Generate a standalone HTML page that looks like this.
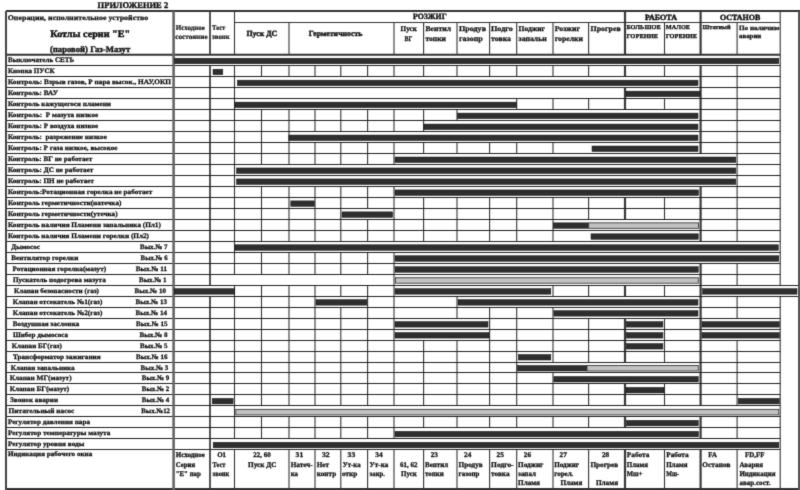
<!DOCTYPE html>
<html><head><meta charset="utf-8"><style>
html,body{margin:0;padding:0;background:#fff;width:800px;height:490px;overflow:hidden}
svg{display:block;will-change:transform}
text{font-family:"Liberation Serif",serif;font-weight:bold;fill:#111;stroke:#111;stroke-width:0.28px;text-rendering:geometricPrecision;white-space:pre}
</style></head><body>
<svg width="800" height="490" viewBox="0 0 800 490">
<defs><filter id="bl" x="0" y="0" width="800" height="490" filterUnits="userSpaceOnUse" color-interpolation-filters="sRGB"><feConvolveMatrix order="3" kernelMatrix="0.0144 0.0912 0.0144 0.0912 0.5776 0.0912 0.0144 0.0912 0.0144" divisor="1" edgeMode="duplicate"/></filter></defs>
<g filter="url(#bl)">
<rect x="0" y="0" width="800" height="490" fill="#fff"/>
<line x1="210.00" y1="11.00" x2="210.00" y2="54.73" stroke="#2a2a2a" stroke-width="1.6"/>
<line x1="210.00" y1="65.70" x2="210.00" y2="285.18" stroke="#2a2a2a" stroke-width="1.6"/>
<line x1="210.00" y1="296.16" x2="210.00" y2="449.79" stroke="#2a2a2a" stroke-width="1.6"/>
<line x1="210.00" y1="449.79" x2="210.00" y2="489.00" stroke="#2a2a2a" stroke-width="1.6"/>
<line x1="234.50" y1="11.00" x2="234.50" y2="54.73" stroke="#333" stroke-width="1.1"/>
<line x1="234.50" y1="65.70" x2="234.50" y2="274.21" stroke="#333" stroke-width="1.1"/>
<line x1="234.50" y1="285.18" x2="234.50" y2="438.82" stroke="#333" stroke-width="1.1"/>
<line x1="234.50" y1="449.79" x2="234.50" y2="489.00" stroke="#333" stroke-width="1.1"/>
<line x1="261.50" y1="65.70" x2="261.50" y2="76.68" stroke="#333" stroke-width="1.1"/>
<line x1="261.50" y1="109.60" x2="261.50" y2="164.47" stroke="#333" stroke-width="1.1"/>
<line x1="261.50" y1="186.42" x2="261.50" y2="241.29" stroke="#333" stroke-width="1.1"/>
<line x1="261.50" y1="252.26" x2="261.50" y2="274.21" stroke="#333" stroke-width="1.1"/>
<line x1="261.50" y1="285.18" x2="261.50" y2="405.90" stroke="#333" stroke-width="1.1"/>
<line x1="261.50" y1="416.87" x2="261.50" y2="438.82" stroke="#333" stroke-width="1.1"/>
<line x1="289.00" y1="22.50" x2="289.00" y2="54.73" stroke="#333" stroke-width="1.1"/>
<line x1="289.00" y1="65.70" x2="289.00" y2="76.68" stroke="#333" stroke-width="1.1"/>
<line x1="289.00" y1="109.60" x2="289.00" y2="164.47" stroke="#333" stroke-width="1.1"/>
<line x1="289.00" y1="186.42" x2="289.00" y2="241.29" stroke="#333" stroke-width="1.1"/>
<line x1="289.00" y1="252.26" x2="289.00" y2="274.21" stroke="#333" stroke-width="1.1"/>
<line x1="289.00" y1="285.18" x2="289.00" y2="405.90" stroke="#333" stroke-width="1.1"/>
<line x1="289.00" y1="416.87" x2="289.00" y2="438.82" stroke="#333" stroke-width="1.1"/>
<line x1="289.00" y1="449.79" x2="289.00" y2="489.00" stroke="#333" stroke-width="1.1"/>
<line x1="315.00" y1="65.70" x2="315.00" y2="76.68" stroke="#333" stroke-width="1.1"/>
<line x1="315.00" y1="109.60" x2="315.00" y2="131.55" stroke="#333" stroke-width="1.1"/>
<line x1="315.00" y1="142.52" x2="315.00" y2="164.47" stroke="#333" stroke-width="1.1"/>
<line x1="315.00" y1="186.42" x2="315.00" y2="241.29" stroke="#333" stroke-width="1.1"/>
<line x1="315.00" y1="252.26" x2="315.00" y2="274.21" stroke="#333" stroke-width="1.1"/>
<line x1="315.00" y1="285.18" x2="315.00" y2="405.90" stroke="#333" stroke-width="1.1"/>
<line x1="315.00" y1="416.87" x2="315.00" y2="438.82" stroke="#333" stroke-width="1.1"/>
<line x1="315.00" y1="449.79" x2="315.00" y2="489.00" stroke="#333" stroke-width="1.1"/>
<line x1="340.80" y1="65.70" x2="340.80" y2="76.68" stroke="#333" stroke-width="1.1"/>
<line x1="340.80" y1="109.60" x2="340.80" y2="131.55" stroke="#333" stroke-width="1.1"/>
<line x1="340.80" y1="142.52" x2="340.80" y2="164.47" stroke="#333" stroke-width="1.1"/>
<line x1="340.80" y1="186.42" x2="340.80" y2="241.29" stroke="#333" stroke-width="1.1"/>
<line x1="340.80" y1="252.26" x2="340.80" y2="274.21" stroke="#333" stroke-width="1.1"/>
<line x1="340.80" y1="285.18" x2="340.80" y2="296.16" stroke="#333" stroke-width="1.1"/>
<line x1="340.80" y1="307.13" x2="340.80" y2="405.90" stroke="#333" stroke-width="1.1"/>
<line x1="340.80" y1="416.87" x2="340.80" y2="438.82" stroke="#333" stroke-width="1.1"/>
<line x1="340.80" y1="449.79" x2="340.80" y2="489.00" stroke="#333" stroke-width="1.1"/>
<line x1="367.60" y1="65.70" x2="367.60" y2="76.68" stroke="#333" stroke-width="1.1"/>
<line x1="367.60" y1="109.60" x2="367.60" y2="131.55" stroke="#333" stroke-width="1.1"/>
<line x1="367.60" y1="142.52" x2="367.60" y2="164.47" stroke="#333" stroke-width="1.1"/>
<line x1="367.60" y1="186.42" x2="367.60" y2="208.37" stroke="#333" stroke-width="1.1"/>
<line x1="367.60" y1="219.34" x2="367.60" y2="241.29" stroke="#333" stroke-width="1.1"/>
<line x1="367.60" y1="252.26" x2="367.60" y2="274.21" stroke="#333" stroke-width="1.1"/>
<line x1="367.60" y1="285.18" x2="367.60" y2="405.90" stroke="#333" stroke-width="1.1"/>
<line x1="367.60" y1="416.87" x2="367.60" y2="438.82" stroke="#333" stroke-width="1.1"/>
<line x1="367.60" y1="449.79" x2="367.60" y2="489.00" stroke="#333" stroke-width="1.1"/>
<line x1="394.00" y1="22.50" x2="394.00" y2="54.73" stroke="#333" stroke-width="1.1"/>
<line x1="394.00" y1="65.70" x2="394.00" y2="76.68" stroke="#333" stroke-width="1.1"/>
<line x1="394.00" y1="109.60" x2="394.00" y2="131.55" stroke="#333" stroke-width="1.1"/>
<line x1="394.00" y1="142.52" x2="394.00" y2="164.47" stroke="#333" stroke-width="1.1"/>
<line x1="394.00" y1="186.42" x2="394.00" y2="241.29" stroke="#333" stroke-width="1.1"/>
<line x1="394.00" y1="252.26" x2="394.00" y2="405.90" stroke="#333" stroke-width="1.1"/>
<line x1="394.00" y1="416.87" x2="394.00" y2="438.82" stroke="#333" stroke-width="1.1"/>
<line x1="394.00" y1="449.79" x2="394.00" y2="489.00" stroke="#333" stroke-width="1.1"/>
<line x1="423.60" y1="22.50" x2="423.60" y2="54.73" stroke="#333" stroke-width="1.1"/>
<line x1="423.60" y1="65.70" x2="423.60" y2="76.68" stroke="#333" stroke-width="1.1"/>
<line x1="423.60" y1="109.60" x2="423.60" y2="131.55" stroke="#333" stroke-width="1.1"/>
<line x1="423.60" y1="142.52" x2="423.60" y2="153.50" stroke="#333" stroke-width="1.1"/>
<line x1="423.60" y1="197.39" x2="423.60" y2="241.29" stroke="#333" stroke-width="1.1"/>
<line x1="423.60" y1="340.05" x2="423.60" y2="405.90" stroke="#333" stroke-width="1.1"/>
<line x1="423.60" y1="416.87" x2="423.60" y2="427.85" stroke="#333" stroke-width="1.1"/>
<line x1="423.60" y1="449.79" x2="423.60" y2="489.00" stroke="#333" stroke-width="1.1"/>
<line x1="457.00" y1="22.50" x2="457.00" y2="54.73" stroke="#333" stroke-width="1.1"/>
<line x1="457.00" y1="65.70" x2="457.00" y2="76.68" stroke="#333" stroke-width="1.1"/>
<line x1="457.00" y1="109.60" x2="457.00" y2="120.57" stroke="#333" stroke-width="1.1"/>
<line x1="457.00" y1="142.52" x2="457.00" y2="153.50" stroke="#333" stroke-width="1.1"/>
<line x1="457.00" y1="197.39" x2="457.00" y2="241.29" stroke="#333" stroke-width="1.1"/>
<line x1="457.00" y1="296.16" x2="457.00" y2="318.11" stroke="#333" stroke-width="1.1"/>
<line x1="457.00" y1="340.05" x2="457.00" y2="405.90" stroke="#333" stroke-width="1.1"/>
<line x1="457.00" y1="416.87" x2="457.00" y2="427.85" stroke="#333" stroke-width="1.1"/>
<line x1="457.00" y1="449.79" x2="457.00" y2="489.00" stroke="#333" stroke-width="1.1"/>
<line x1="489.60" y1="22.50" x2="489.60" y2="54.73" stroke="#333" stroke-width="1.1"/>
<line x1="489.60" y1="65.70" x2="489.60" y2="76.68" stroke="#333" stroke-width="1.1"/>
<line x1="489.60" y1="142.52" x2="489.60" y2="153.50" stroke="#333" stroke-width="1.1"/>
<line x1="489.60" y1="197.39" x2="489.60" y2="241.29" stroke="#333" stroke-width="1.1"/>
<line x1="489.60" y1="307.13" x2="489.60" y2="405.90" stroke="#333" stroke-width="1.1"/>
<line x1="489.60" y1="416.87" x2="489.60" y2="427.85" stroke="#333" stroke-width="1.1"/>
<line x1="489.60" y1="449.79" x2="489.60" y2="489.00" stroke="#333" stroke-width="1.1"/>
<line x1="516.70" y1="22.50" x2="516.70" y2="54.73" stroke="#333" stroke-width="1.1"/>
<line x1="516.70" y1="65.70" x2="516.70" y2="76.68" stroke="#333" stroke-width="1.1"/>
<line x1="516.70" y1="98.63" x2="516.70" y2="109.60" stroke="#333" stroke-width="1.1"/>
<line x1="516.70" y1="142.52" x2="516.70" y2="153.50" stroke="#333" stroke-width="1.1"/>
<line x1="516.70" y1="197.39" x2="516.70" y2="241.29" stroke="#333" stroke-width="1.1"/>
<line x1="516.70" y1="307.13" x2="516.70" y2="405.90" stroke="#333" stroke-width="1.1"/>
<line x1="516.70" y1="416.87" x2="516.70" y2="427.85" stroke="#333" stroke-width="1.1"/>
<line x1="516.70" y1="449.79" x2="516.70" y2="489.00" stroke="#333" stroke-width="1.1"/>
<line x1="553.00" y1="22.50" x2="553.00" y2="54.73" stroke="#333" stroke-width="1.1"/>
<line x1="553.00" y1="65.70" x2="553.00" y2="76.68" stroke="#333" stroke-width="1.1"/>
<line x1="553.00" y1="98.63" x2="553.00" y2="109.60" stroke="#333" stroke-width="1.1"/>
<line x1="553.00" y1="142.52" x2="553.00" y2="153.50" stroke="#333" stroke-width="1.1"/>
<line x1="553.00" y1="197.39" x2="553.00" y2="241.29" stroke="#333" stroke-width="1.1"/>
<line x1="553.00" y1="285.18" x2="553.00" y2="296.16" stroke="#333" stroke-width="1.1"/>
<line x1="553.00" y1="307.13" x2="553.00" y2="362.00" stroke="#333" stroke-width="1.1"/>
<line x1="553.00" y1="372.98" x2="553.00" y2="405.90" stroke="#333" stroke-width="1.1"/>
<line x1="553.00" y1="416.87" x2="553.00" y2="427.85" stroke="#333" stroke-width="1.1"/>
<line x1="553.00" y1="449.79" x2="553.00" y2="489.00" stroke="#333" stroke-width="1.1"/>
<line x1="588.60" y1="22.50" x2="588.60" y2="54.73" stroke="#333" stroke-width="1.1"/>
<line x1="588.60" y1="65.70" x2="588.60" y2="76.68" stroke="#333" stroke-width="1.1"/>
<line x1="588.60" y1="98.63" x2="588.60" y2="109.60" stroke="#333" stroke-width="1.1"/>
<line x1="588.60" y1="197.39" x2="588.60" y2="219.34" stroke="#333" stroke-width="1.1"/>
<line x1="588.60" y1="285.18" x2="588.60" y2="296.16" stroke="#333" stroke-width="1.1"/>
<line x1="588.60" y1="318.11" x2="588.60" y2="362.00" stroke="#333" stroke-width="1.1"/>
<line x1="588.60" y1="383.95" x2="588.60" y2="405.90" stroke="#333" stroke-width="1.1"/>
<line x1="588.60" y1="416.87" x2="588.60" y2="427.85" stroke="#333" stroke-width="1.1"/>
<line x1="588.60" y1="449.79" x2="588.60" y2="489.00" stroke="#333" stroke-width="1.1"/>
<line x1="625.00" y1="11.00" x2="625.00" y2="54.73" stroke="#3a3a3a" stroke-width="2.2"/>
<line x1="625.00" y1="65.70" x2="625.00" y2="76.68" stroke="#3a3a3a" stroke-width="2.2"/>
<line x1="625.00" y1="87.65" x2="625.00" y2="109.60" stroke="#3a3a3a" stroke-width="2.2"/>
<line x1="625.00" y1="197.39" x2="625.00" y2="219.34" stroke="#3a3a3a" stroke-width="2.2"/>
<line x1="625.00" y1="285.18" x2="625.00" y2="296.16" stroke="#3a3a3a" stroke-width="2.2"/>
<line x1="625.00" y1="318.11" x2="625.00" y2="362.00" stroke="#3a3a3a" stroke-width="2.2"/>
<line x1="625.00" y1="383.95" x2="625.00" y2="405.90" stroke="#3a3a3a" stroke-width="2.2"/>
<line x1="625.00" y1="416.87" x2="625.00" y2="427.85" stroke="#3a3a3a" stroke-width="2.2"/>
<line x1="625.00" y1="449.79" x2="625.00" y2="489.00" stroke="#3a3a3a" stroke-width="2.2"/>
<line x1="664.50" y1="22.50" x2="664.50" y2="54.73" stroke="#333" stroke-width="1.1"/>
<line x1="664.50" y1="65.70" x2="664.50" y2="76.68" stroke="#333" stroke-width="1.1"/>
<line x1="664.50" y1="98.63" x2="664.50" y2="109.60" stroke="#333" stroke-width="1.1"/>
<line x1="664.50" y1="197.39" x2="664.50" y2="219.34" stroke="#333" stroke-width="1.1"/>
<line x1="664.50" y1="285.18" x2="664.50" y2="296.16" stroke="#333" stroke-width="1.1"/>
<line x1="664.50" y1="318.11" x2="664.50" y2="362.00" stroke="#333" stroke-width="1.1"/>
<line x1="664.50" y1="383.95" x2="664.50" y2="405.90" stroke="#333" stroke-width="1.1"/>
<line x1="664.50" y1="449.79" x2="664.50" y2="489.00" stroke="#333" stroke-width="1.1"/>
<line x1="700.60" y1="11.00" x2="700.60" y2="54.73" stroke="#3a3a3a" stroke-width="2.2"/>
<line x1="700.60" y1="65.70" x2="700.60" y2="153.50" stroke="#3a3a3a" stroke-width="2.2"/>
<line x1="700.60" y1="186.42" x2="700.60" y2="241.29" stroke="#3a3a3a" stroke-width="2.2"/>
<line x1="700.60" y1="263.24" x2="700.60" y2="405.90" stroke="#3a3a3a" stroke-width="2.2"/>
<line x1="700.60" y1="416.87" x2="700.60" y2="438.82" stroke="#3a3a3a" stroke-width="2.2"/>
<line x1="700.60" y1="449.79" x2="700.60" y2="489.00" stroke="#3a3a3a" stroke-width="2.2"/>
<line x1="737.10" y1="22.50" x2="737.10" y2="54.73" stroke="#333" stroke-width="1.1"/>
<line x1="737.10" y1="65.70" x2="737.10" y2="241.29" stroke="#333" stroke-width="1.1"/>
<line x1="737.10" y1="263.24" x2="737.10" y2="285.18" stroke="#333" stroke-width="1.1"/>
<line x1="737.10" y1="296.16" x2="737.10" y2="318.11" stroke="#333" stroke-width="1.1"/>
<line x1="737.10" y1="340.05" x2="737.10" y2="405.90" stroke="#333" stroke-width="1.1"/>
<line x1="737.10" y1="416.87" x2="737.10" y2="438.82" stroke="#333" stroke-width="1.1"/>
<line x1="737.10" y1="449.79" x2="737.10" y2="489.00" stroke="#333" stroke-width="1.1"/>
<line x1="780.20" y1="11.00" x2="780.20" y2="54.73" stroke="#333" stroke-width="1.1"/>
<line x1="780.20" y1="54.73" x2="780.20" y2="285.18" stroke="#333" stroke-width="1.1"/>
<line x1="780.20" y1="296.16" x2="780.20" y2="449.79" stroke="#333" stroke-width="1.1"/>
<line x1="780.20" y1="449.79" x2="780.20" y2="489.00" stroke="#333" stroke-width="1.1"/>
<line x1="6.00" y1="65.50" x2="780.20" y2="65.50" stroke="#222" stroke-width="1.15"/>
<line x1="6.00" y1="76.50" x2="780.20" y2="76.50" stroke="#222" stroke-width="1.15"/>
<line x1="6.00" y1="87.50" x2="780.20" y2="87.50" stroke="#222" stroke-width="1.15"/>
<line x1="6.00" y1="98.50" x2="780.20" y2="98.50" stroke="#222" stroke-width="1.15"/>
<line x1="6.00" y1="109.50" x2="780.20" y2="109.50" stroke="#222" stroke-width="1.15"/>
<line x1="6.00" y1="120.50" x2="780.20" y2="120.50" stroke="#222" stroke-width="1.15"/>
<line x1="6.00" y1="131.50" x2="780.20" y2="131.50" stroke="#222" stroke-width="1.15"/>
<line x1="6.00" y1="142.50" x2="780.20" y2="142.50" stroke="#222" stroke-width="1.15"/>
<line x1="6.00" y1="153.50" x2="780.20" y2="153.50" stroke="#222" stroke-width="1.15"/>
<line x1="6.00" y1="164.50" x2="780.20" y2="164.50" stroke="#222" stroke-width="1.15"/>
<line x1="6.00" y1="175.50" x2="780.20" y2="175.50" stroke="#222" stroke-width="1.15"/>
<line x1="6.00" y1="186.50" x2="780.20" y2="186.50" stroke="#222" stroke-width="1.15"/>
<line x1="6.00" y1="197.50" x2="780.20" y2="197.50" stroke="#222" stroke-width="1.15"/>
<line x1="6.00" y1="208.50" x2="780.20" y2="208.50" stroke="#222" stroke-width="1.15"/>
<line x1="6.00" y1="219.50" x2="780.20" y2="219.50" stroke="#222" stroke-width="1.15"/>
<line x1="6.00" y1="230.50" x2="780.20" y2="230.50" stroke="#222" stroke-width="1.15"/>
<line x1="6.00" y1="241.50" x2="780.20" y2="241.50" stroke="#222" stroke-width="1.15"/>
<line x1="6.00" y1="252.50" x2="780.20" y2="252.50" stroke="#222" stroke-width="1.15"/>
<line x1="6.00" y1="263.50" x2="780.20" y2="263.50" stroke="#222" stroke-width="1.15"/>
<line x1="6.00" y1="274.50" x2="780.20" y2="274.50" stroke="#222" stroke-width="1.15"/>
<line x1="6.00" y1="285.50" x2="799.00" y2="285.50" stroke="#222" stroke-width="1.15"/>
<line x1="6.00" y1="296.50" x2="799.00" y2="296.50" stroke="#222" stroke-width="1.15"/>
<line x1="6.00" y1="307.50" x2="780.20" y2="307.50" stroke="#222" stroke-width="1.15"/>
<line x1="6.00" y1="318.50" x2="780.20" y2="318.50" stroke="#222" stroke-width="1.15"/>
<line x1="6.00" y1="329.50" x2="780.20" y2="329.50" stroke="#222" stroke-width="1.15"/>
<line x1="6.00" y1="340.50" x2="780.20" y2="340.50" stroke="#222" stroke-width="1.15"/>
<line x1="6.00" y1="351.50" x2="780.20" y2="351.50" stroke="#222" stroke-width="1.15"/>
<line x1="6.00" y1="362.50" x2="780.20" y2="362.50" stroke="#222" stroke-width="1.15"/>
<line x1="6.00" y1="372.50" x2="780.20" y2="372.50" stroke="#222" stroke-width="1.15"/>
<line x1="6.00" y1="383.50" x2="780.20" y2="383.50" stroke="#222" stroke-width="1.15"/>
<line x1="6.00" y1="394.50" x2="780.20" y2="394.50" stroke="#222" stroke-width="1.15"/>
<line x1="6.00" y1="405.50" x2="780.20" y2="405.50" stroke="#222" stroke-width="1.15"/>
<line x1="6.00" y1="416.50" x2="780.20" y2="416.50" stroke="#222" stroke-width="1.15"/>
<line x1="6.00" y1="427.50" x2="780.20" y2="427.50" stroke="#222" stroke-width="1.15"/>
<line x1="6.00" y1="438.50" x2="780.20" y2="438.50" stroke="#222" stroke-width="1.15"/>
<line x1="6.00" y1="449.50" x2="780.20" y2="449.50" stroke="#2a2a2a" stroke-width="1.2"/>
<line x1="234.50" y1="22.50" x2="780.20" y2="22.50" stroke="#333" stroke-width="1.1"/>
<line x1="6.00" y1="54.73" x2="780.20" y2="54.73" stroke="#333" stroke-width="1.8"/>
<line x1="6.00" y1="11.00" x2="800.00" y2="11.00" stroke="#333" stroke-width="2.0"/>
<line x1="6.00" y1="489.00" x2="800.00" y2="489.00" stroke="#333" stroke-width="2.2"/>
<line x1="6.00" y1="11.00" x2="6.00" y2="490.00" stroke="#444" stroke-width="2.0"/>
<line x1="173.60" y1="11.00" x2="173.60" y2="490.00" stroke="#666" stroke-width="2.6"/>
<line x1="799.00" y1="11.00" x2="799.00" y2="490.00" stroke="#555" stroke-width="2.0"/>
<rect x="174.50" y="58.23" width="604.30" height="5.50" fill="#2e2e2e" stroke="#111" stroke-width="0.5"/>
<rect x="213.00" y="69.20" width="9.80" height="5.50" fill="#2e2e2e" stroke="#111" stroke-width="0.5"/>
<rect x="237.50" y="80.18" width="460.50" height="5.50" fill="#2e2e2e" stroke="#111" stroke-width="0.5"/>
<rect x="626.00" y="91.15" width="74.00" height="5.50" fill="#2e2e2e" stroke="#111" stroke-width="0.5"/>
<rect x="235.00" y="102.13" width="281.50" height="5.50" fill="#2e2e2e" stroke="#111" stroke-width="0.5"/>
<rect x="457.50" y="113.10" width="240.50" height="5.50" fill="#2e2e2e" stroke="#111" stroke-width="0.5"/>
<rect x="423.80" y="124.07" width="274.20" height="5.50" fill="#2e2e2e" stroke="#111" stroke-width="0.5"/>
<rect x="288.80" y="135.05" width="409.20" height="5.50" fill="#2e2e2e" stroke="#111" stroke-width="0.5"/>
<rect x="592.00" y="146.02" width="106.00" height="5.50" fill="#2e2e2e" stroke="#111" stroke-width="0.5"/>
<rect x="395.00" y="157.00" width="340.80" height="5.50" fill="#2e2e2e" stroke="#111" stroke-width="0.5"/>
<rect x="236.50" y="167.97" width="499.30" height="5.50" fill="#2e2e2e" stroke="#111" stroke-width="0.5"/>
<rect x="236.50" y="178.94" width="499.30" height="5.50" fill="#2e2e2e" stroke="#111" stroke-width="0.5"/>
<rect x="395.00" y="189.92" width="303.50" height="5.50" fill="#2e2e2e" stroke="#111" stroke-width="0.5"/>
<rect x="290.80" y="200.89" width="23.60" height="5.50" fill="#2e2e2e" stroke="#111" stroke-width="0.5"/>
<rect x="342.00" y="211.87" width="50.60" height="5.50" fill="#2e2e2e" stroke="#111" stroke-width="0.5"/>
<rect x="553.30" y="222.84" width="35.40" height="5.50" fill="#2e2e2e" stroke="#111" stroke-width="0.5"/>
<rect x="588.70" y="222.84" width="109.80" height="5.50" fill="#c2c2c2" stroke="#3a3a3a" stroke-width="0.9"/>
<rect x="591.00" y="233.81" width="107.30" height="5.50" fill="#2e2e2e" stroke="#111" stroke-width="0.5"/>
<rect x="235.00" y="244.79" width="543.30" height="5.50" fill="#2e2e2e" stroke="#111" stroke-width="0.5"/>
<rect x="395.00" y="255.76" width="383.80" height="5.50" fill="#2e2e2e" stroke="#111" stroke-width="0.5"/>
<rect x="395.00" y="266.74" width="303.30" height="5.50" fill="#2e2e2e" stroke="#111" stroke-width="0.5"/>
<rect x="395.50" y="277.71" width="302.80" height="5.50" fill="#c2c2c2" stroke="#3a3a3a" stroke-width="0.9"/>
<rect x="174.20" y="288.68" width="60.60" height="5.50" fill="#2e2e2e" stroke="#111" stroke-width="0.5"/>
<rect x="395.00" y="288.68" width="155.80" height="5.50" fill="#2e2e2e" stroke="#111" stroke-width="0.5"/>
<rect x="702.50" y="288.68" width="94.50" height="5.50" fill="#2e2e2e" stroke="#111" stroke-width="0.5"/>
<rect x="316.00" y="299.66" width="50.80" height="5.50" fill="#2e2e2e" stroke="#111" stroke-width="0.5"/>
<rect x="458.00" y="299.66" width="240.00" height="5.50" fill="#2e2e2e" stroke="#111" stroke-width="0.5"/>
<rect x="553.90" y="310.63" width="144.10" height="5.50" fill="#2e2e2e" stroke="#111" stroke-width="0.5"/>
<rect x="395.00" y="321.61" width="93.00" height="5.50" fill="#2e2e2e" stroke="#111" stroke-width="0.5"/>
<rect x="626.30" y="321.61" width="36.60" height="5.50" fill="#2e2e2e" stroke="#111" stroke-width="0.5"/>
<rect x="702.00" y="321.61" width="77.30" height="5.50" fill="#2e2e2e" stroke="#111" stroke-width="0.5"/>
<rect x="395.00" y="332.58" width="94.00" height="5.50" fill="#2e2e2e" stroke="#111" stroke-width="0.5"/>
<rect x="626.30" y="332.58" width="36.60" height="5.50" fill="#2e2e2e" stroke="#111" stroke-width="0.5"/>
<rect x="702.00" y="332.58" width="77.30" height="5.50" fill="#2e2e2e" stroke="#111" stroke-width="0.5"/>
<rect x="626.30" y="343.55" width="36.60" height="5.50" fill="#2e2e2e" stroke="#111" stroke-width="0.5"/>
<rect x="518.40" y="354.53" width="32.40" height="5.50" fill="#2e2e2e" stroke="#111" stroke-width="0.5"/>
<rect x="517.50" y="365.50" width="69.50" height="5.50" fill="#2e2e2e" stroke="#111" stroke-width="0.5"/>
<rect x="587.00" y="365.50" width="111.30" height="5.50" fill="#c2c2c2" stroke="#3a3a3a" stroke-width="0.9"/>
<rect x="553.90" y="376.48" width="144.40" height="5.50" fill="#2e2e2e" stroke="#111" stroke-width="0.5"/>
<rect x="626.00" y="387.45" width="38.00" height="5.50" fill="#2e2e2e" stroke="#111" stroke-width="0.5"/>
<rect x="212.20" y="398.42" width="20.90" height="5.50" fill="#2e2e2e" stroke="#111" stroke-width="0.5"/>
<rect x="738.30" y="398.42" width="41.00" height="5.50" fill="#2e2e2e" stroke="#111" stroke-width="0.5"/>
<rect x="235.80" y="409.40" width="543.00" height="5.50" fill="#c2c2c2" stroke="#3a3a3a" stroke-width="0.9"/>
<rect x="626.40" y="420.37" width="71.90" height="5.50" fill="#2e2e2e" stroke="#111" stroke-width="0.5"/>
<rect x="395.00" y="431.35" width="303.50" height="5.50" fill="#2e2e2e" stroke="#111" stroke-width="0.5"/>
<rect x="213.20" y="442.32" width="565.60" height="5.50" fill="#2e2e2e" stroke="#111" stroke-width="0.5"/>
<text x="97.60" y="8.00" font-size="8.6" style="stroke-width:0.4px" textLength="70.60" lengthAdjust="spacingAndGlyphs">ПРИЛОЖЕНИЕ 2</text>
<text x="7.70" y="19.50" font-size="7.1" style="stroke-width:0.25px" textLength="140.60" lengthAdjust="spacingAndGlyphs">Операции, исполнительное устройство</text>
<text x="50.30" y="36.60" font-size="9.8" style="stroke-width:0.45px" textLength="79.90" lengthAdjust="spacingAndGlyphs">Котлы серии &quot;Е&quot;</text>
<text x="49.90" y="52.20" font-size="8.6" style="stroke-width:0.4px" textLength="80.30" lengthAdjust="spacingAndGlyphs">(паровой) Газ-Мазут</text>
<text x="7.90" y="62.23" font-size="6.8" textLength="66.40" lengthAdjust="spacingAndGlyphs">Выключатель СЕТЬ</text>
<text x="7.90" y="73.20" font-size="6.8" textLength="46.80" lengthAdjust="spacingAndGlyphs">Кнопка ПУСК</text>
<text x="7.90" y="84.18" font-size="6.8" textLength="163.10" lengthAdjust="spacingAndGlyphs">Контроль: Взрыв газов, Р пара высок., НАУ,ОКП</text>
<text x="7.90" y="95.15" font-size="6.8" textLength="50.10" lengthAdjust="spacingAndGlyphs">Контроль: ВАУ</text>
<text x="7.90" y="106.13" font-size="6.8" textLength="103.10" lengthAdjust="spacingAndGlyphs">Контроль кажущегося пламени</text>
<text x="7.90" y="117.10" font-size="6.8" textLength="90.40" lengthAdjust="spacingAndGlyphs">Контроль:  Р мазута низкое</text>
<text x="7.90" y="128.07" font-size="6.8" textLength="90.40" lengthAdjust="spacingAndGlyphs">Контроль: Р воздуха низкое</text>
<text x="7.90" y="139.05" font-size="6.8" textLength="99.00" lengthAdjust="spacingAndGlyphs">Контроль:  разрежение низкое</text>
<text x="7.90" y="150.02" font-size="6.8" textLength="109.60" lengthAdjust="spacingAndGlyphs">Контроль: Р газа низкое, высокое</text>
<text x="7.90" y="161.00" font-size="6.8" textLength="84.40" lengthAdjust="spacingAndGlyphs">Контроль: ВГ не работает</text>
<text x="7.90" y="171.97" font-size="6.8" textLength="85.50" lengthAdjust="spacingAndGlyphs">Контроль: ДС не работает</text>
<text x="7.90" y="182.94" font-size="6.8" textLength="86.10" lengthAdjust="spacingAndGlyphs">Контроль: ПН не работает</text>
<text x="7.90" y="193.92" font-size="6.8" textLength="144.40" lengthAdjust="spacingAndGlyphs">Контроль:Ротационная горелка не работает</text>
<text x="7.90" y="204.89" font-size="6.8" textLength="113.60" lengthAdjust="spacingAndGlyphs">Контроль герметичности(натечка)</text>
<text x="7.90" y="215.87" font-size="6.8" textLength="109.80" lengthAdjust="spacingAndGlyphs">Контроль герметичности(утечка)</text>
<text x="7.90" y="226.84" font-size="6.8" textLength="153.00" lengthAdjust="spacingAndGlyphs">Контроль наличия Пламени запальника (Пл1)</text>
<text x="7.90" y="237.81" font-size="6.8" textLength="141.10" lengthAdjust="spacingAndGlyphs">Контроль наличия Пламени горелки (Пл2)</text>
<text x="11.25" y="248.79" font-size="6.8" textLength="28.75" lengthAdjust="spacingAndGlyphs">Дымосос</text>
<text x="140.00" y="248.79" font-size="6.8" textLength="27.60" lengthAdjust="spacingAndGlyphs">Вых.№ 7</text>
<text x="11.25" y="259.76" font-size="6.8" textLength="67.05" lengthAdjust="spacingAndGlyphs">Вентилятор горелки</text>
<text x="140.60" y="259.76" font-size="6.8" textLength="27.00" lengthAdjust="spacingAndGlyphs">Вых.№ 6</text>
<text x="12.40" y="270.74" font-size="6.8" textLength="93.80" lengthAdjust="spacingAndGlyphs">Ротационная горелка(мазут)</text>
<text x="135.70" y="270.74" font-size="6.8" textLength="31.30" lengthAdjust="spacingAndGlyphs">Вых.№ 11</text>
<text x="13.00" y="281.71" font-size="6.8" textLength="92.75" lengthAdjust="spacingAndGlyphs">Пускатель подогрева мазута</text>
<text x="139.00" y="281.71" font-size="6.8" textLength="27.50" lengthAdjust="spacingAndGlyphs">Вых.№ 1</text>
<text x="14.00" y="292.68" font-size="6.8" textLength="85.00" lengthAdjust="spacingAndGlyphs">Клапан безопасности (газ)</text>
<text x="134.60" y="292.68" font-size="6.8" textLength="31.40" lengthAdjust="spacingAndGlyphs">Вых.№ 10</text>
<text x="12.80" y="303.66" font-size="6.8" textLength="89.60" lengthAdjust="spacingAndGlyphs">Клапан отсекатель №1(газ)</text>
<text x="135.50" y="303.66" font-size="6.8" textLength="31.50" lengthAdjust="spacingAndGlyphs">Вых.№ 13</text>
<text x="12.80" y="314.63" font-size="6.8" textLength="89.60" lengthAdjust="spacingAndGlyphs">Клапан отсекатель №2(газ)</text>
<text x="135.50" y="314.63" font-size="6.8" textLength="31.50" lengthAdjust="spacingAndGlyphs">Вых.№ 14</text>
<text x="12.80" y="325.61" font-size="6.8" textLength="66.40" lengthAdjust="spacingAndGlyphs">Воздушная заслонка</text>
<text x="136.00" y="325.61" font-size="6.8" textLength="31.60" lengthAdjust="spacingAndGlyphs">Вых.№ 15</text>
<text x="13.00" y="336.58" font-size="6.8" textLength="55.00" lengthAdjust="spacingAndGlyphs">Шибер дымососа</text>
<text x="139.50" y="336.58" font-size="6.8" textLength="28.10" lengthAdjust="spacingAndGlyphs">Вых.№ 8</text>
<text x="11.70" y="347.55" font-size="6.8" textLength="50.20" lengthAdjust="spacingAndGlyphs">Клапан БГ(газ)</text>
<text x="140.00" y="347.55" font-size="6.8" textLength="27.60" lengthAdjust="spacingAndGlyphs">Вых.№ 5</text>
<text x="13.00" y="358.53" font-size="6.8" textLength="87.60" lengthAdjust="spacingAndGlyphs">Трансформатор зажигания</text>
<text x="136.00" y="358.53" font-size="6.8" textLength="31.60" lengthAdjust="spacingAndGlyphs">Вых.№ 16</text>
<text x="10.80" y="369.50" font-size="6.8" textLength="63.90" lengthAdjust="spacingAndGlyphs">Клапан запальника</text>
<text x="140.60" y="369.50" font-size="6.8" textLength="27.70" lengthAdjust="spacingAndGlyphs">Вых.№ 3</text>
<text x="9.70" y="380.48" font-size="6.8" textLength="61.90" lengthAdjust="spacingAndGlyphs">Клапан МГ(мазут)</text>
<text x="141.75" y="380.48" font-size="6.8" textLength="27.45" lengthAdjust="spacingAndGlyphs">Вых.№ 9</text>
<text x="9.70" y="391.45" font-size="6.8" textLength="59.60" lengthAdjust="spacingAndGlyphs">Клапан БГ(мазут)</text>
<text x="141.75" y="391.45" font-size="6.8" textLength="27.45" lengthAdjust="spacingAndGlyphs">Вых.№ 2</text>
<text x="10.10" y="402.42" font-size="6.8" textLength="47.90" lengthAdjust="spacingAndGlyphs">Звонок аварии</text>
<text x="141.75" y="402.42" font-size="6.8" textLength="27.45" lengthAdjust="spacingAndGlyphs">Вых.№ 4</text>
<text x="8.60" y="413.40" font-size="6.8" textLength="65.70" lengthAdjust="spacingAndGlyphs">Питательный насос</text>
<text x="141.30" y="413.40" font-size="6.8" textLength="28.70" lengthAdjust="spacingAndGlyphs">Вых.№12</text>
<text x="7.90" y="424.37" font-size="6.8" textLength="82.10" lengthAdjust="spacingAndGlyphs">Регулятор давления пара</text>
<text x="7.90" y="435.35" font-size="6.8" textLength="102.40" lengthAdjust="spacingAndGlyphs">Регулятор температуры мазута</text>
<text x="7.90" y="446.32" font-size="6.8" textLength="76.50" lengthAdjust="spacingAndGlyphs">Регулятор уровня воды</text>
<text x="7.90" y="456.40" font-size="6.8" textLength="84.40" lengthAdjust="spacingAndGlyphs">Индикация рабочего окна</text>
<text x="175.70" y="30.00" font-size="7.2" style="stroke-width:0.22px" textLength="29.30" lengthAdjust="spacingAndGlyphs">Исходное</text>
<text x="175.20" y="39.20" font-size="7.2" style="stroke-width:0.22px" textLength="32.50" lengthAdjust="spacingAndGlyphs">состояние</text>
<text x="212.00" y="30.00" font-size="7.2" style="stroke-width:0.22px" textLength="13.30" lengthAdjust="spacingAndGlyphs">Тест</text>
<text x="212.00" y="39.20" font-size="7.2" style="stroke-width:0.22px" textLength="17.80" lengthAdjust="spacingAndGlyphs">звонк</text>
<text x="246.40" y="35.60" font-size="7.9" style="stroke-width:0.4px" textLength="30.90" lengthAdjust="spacingAndGlyphs">Пуск ДС</text>
<text x="308.80" y="35.60" font-size="7.9" style="stroke-width:0.4px" textLength="53.70" lengthAdjust="spacingAndGlyphs">Герметичность</text>
<text x="413.10" y="19.40" font-size="8.2" style="stroke-width:0.4px" textLength="33.50" lengthAdjust="spacingAndGlyphs">РОЗЖИГ</text>
<text x="400.60" y="31.00" font-size="7.4" textLength="16.20" lengthAdjust="spacingAndGlyphs">Пуск</text>
<text x="404.60" y="41.00" font-size="7.4" textLength="7.80" lengthAdjust="spacingAndGlyphs">ВГ</text>
<text x="425.40" y="31.00" font-size="7.4" textLength="25.60" lengthAdjust="spacingAndGlyphs">Вентил</text>
<text x="425.40" y="41.00" font-size="7.4" textLength="20.60" lengthAdjust="spacingAndGlyphs">топки</text>
<text x="459.00" y="31.00" font-size="7.4" textLength="27.00" lengthAdjust="spacingAndGlyphs">Продув</text>
<text x="459.00" y="41.00" font-size="7.4" textLength="23.70" lengthAdjust="spacingAndGlyphs">газопр</text>
<text x="491.00" y="31.00" font-size="7.4" textLength="21.80" lengthAdjust="spacingAndGlyphs">Подго</text>
<text x="491.00" y="41.00" font-size="7.4" textLength="20.00" lengthAdjust="spacingAndGlyphs">товка</text>
<text x="518.60" y="31.00" font-size="7.4" textLength="26.40" lengthAdjust="spacingAndGlyphs">Поджиг</text>
<text x="518.60" y="41.00" font-size="7.4" textLength="28.10" lengthAdjust="spacingAndGlyphs">запальн</text>
<text x="554.80" y="31.00" font-size="7.4" textLength="25.20" lengthAdjust="spacingAndGlyphs">Розжиг</text>
<text x="554.80" y="41.00" font-size="7.4" textLength="28.20" lengthAdjust="spacingAndGlyphs">горелки</text>
<text x="590.60" y="31.00" font-size="7.4" textLength="30.10" lengthAdjust="spacingAndGlyphs">Прогрев</text>
<text x="645.00" y="19.60" font-size="8.0" style="stroke-width:0.4px" textLength="32.00" lengthAdjust="spacingAndGlyphs">РАБОТА</text>
<text x="719.90" y="19.60" font-size="8.0" style="stroke-width:0.4px" textLength="40.30" lengthAdjust="spacingAndGlyphs">ОСТАНОВ</text>
<text x="626.40" y="29.30" font-size="6.0" textLength="34.40" lengthAdjust="spacingAndGlyphs">БОЛЬШОЕ</text>
<text x="626.40" y="37.70" font-size="6.0" textLength="31.80" lengthAdjust="spacingAndGlyphs">ГОРЕНИЕ</text>
<text x="665.70" y="29.30" font-size="6.0" textLength="24.40" lengthAdjust="spacingAndGlyphs">МАЛОЕ</text>
<text x="665.70" y="37.70" font-size="6.0" textLength="31.30" lengthAdjust="spacingAndGlyphs">ГОРЕНИЕ</text>
<text x="702.40" y="29.30" font-size="6.0" textLength="28.10" lengthAdjust="spacingAndGlyphs">Штатный</text>
<text x="739.00" y="29.60" font-size="6.6" textLength="40.40" lengthAdjust="spacingAndGlyphs">По наличию</text>
<text x="739.00" y="38.20" font-size="6.6" textLength="22.30" lengthAdjust="spacingAndGlyphs">аварии</text>
<text x="175.70" y="457.40" font-size="7.1" textLength="29.30" lengthAdjust="spacingAndGlyphs">Исходное</text>
<text x="175.70" y="466.50" font-size="7.1" textLength="19.50" lengthAdjust="spacingAndGlyphs">Серия</text>
<text x="175.70" y="475.60" font-size="7.1" textLength="25.20" lengthAdjust="spacingAndGlyphs">&quot;Е&quot; пар</text>
<text x="217.20" y="457.40" font-size="7.1" textLength="8.90" lengthAdjust="spacingAndGlyphs">О1</text>
<text x="212.60" y="466.50" font-size="7.1" textLength="12.70" lengthAdjust="spacingAndGlyphs">Тест</text>
<text x="212.60" y="475.60" font-size="7.1" textLength="16.70" lengthAdjust="spacingAndGlyphs">звонк</text>
<text x="253.30" y="457.40" font-size="7.1" textLength="17.50" lengthAdjust="spacingAndGlyphs">22, 60</text>
<text x="248.00" y="466.50" font-size="7.1" textLength="28.50" lengthAdjust="spacingAndGlyphs">Пуск ДС</text>
<text x="295.60" y="457.40" font-size="7.1" textLength="7.60" lengthAdjust="spacingAndGlyphs">31</text>
<text x="290.70" y="466.50" font-size="7.1" textLength="21.90" lengthAdjust="spacingAndGlyphs">Натеч-</text>
<text x="290.70" y="475.60" font-size="7.1" textLength="7.30" lengthAdjust="spacingAndGlyphs">ка</text>
<text x="322.00" y="457.40" font-size="7.1" textLength="7.70" lengthAdjust="spacingAndGlyphs">32</text>
<text x="316.70" y="466.50" font-size="7.1" textLength="12.30" lengthAdjust="spacingAndGlyphs">Нет</text>
<text x="316.70" y="475.60" font-size="7.1" textLength="19.50" lengthAdjust="spacingAndGlyphs">контр</text>
<text x="347.60" y="457.40" font-size="7.1" textLength="7.60" lengthAdjust="spacingAndGlyphs">33</text>
<text x="342.70" y="466.50" font-size="7.1" textLength="17.90" lengthAdjust="spacingAndGlyphs">Ут-ка</text>
<text x="341.90" y="475.60" font-size="7.1" textLength="15.50" lengthAdjust="spacingAndGlyphs">откр</text>
<text x="375.20" y="457.40" font-size="7.1" textLength="7.40" lengthAdjust="spacingAndGlyphs">34</text>
<text x="369.60" y="466.50" font-size="7.1" textLength="18.70" lengthAdjust="spacingAndGlyphs">Ут-ка</text>
<text x="369.60" y="475.60" font-size="7.1" textLength="15.40" lengthAdjust="spacingAndGlyphs">закр.</text>
<text x="400.10" y="466.50" font-size="7.1" textLength="17.50" lengthAdjust="spacingAndGlyphs">61, 62</text>
<text x="401.00" y="475.60" font-size="7.1" textLength="15.80" lengthAdjust="spacingAndGlyphs">Пуск</text>
<text x="430.70" y="457.40" font-size="7.1" textLength="7.30" lengthAdjust="spacingAndGlyphs">23</text>
<text x="425.00" y="466.50" font-size="7.1" textLength="23.20" lengthAdjust="spacingAndGlyphs">Вентил</text>
<text x="425.00" y="475.60" font-size="7.1" textLength="18.70" lengthAdjust="spacingAndGlyphs">топки</text>
<text x="464.00" y="457.40" font-size="7.1" textLength="7.30" lengthAdjust="spacingAndGlyphs">24</text>
<text x="458.60" y="466.50" font-size="7.1" textLength="24.10" lengthAdjust="spacingAndGlyphs">Продув</text>
<text x="458.60" y="475.60" font-size="7.1" textLength="20.80" lengthAdjust="spacingAndGlyphs">газопр</text>
<text x="496.50" y="457.40" font-size="7.1" textLength="7.30" lengthAdjust="spacingAndGlyphs">25</text>
<text x="491.10" y="466.50" font-size="7.1" textLength="22.50" lengthAdjust="spacingAndGlyphs">Подго-</text>
<text x="491.10" y="475.60" font-size="7.1" textLength="18.40" lengthAdjust="spacingAndGlyphs">товка</text>
<text x="523.80" y="457.40" font-size="7.1" textLength="7.30" lengthAdjust="spacingAndGlyphs">26</text>
<text x="518.10" y="466.50" font-size="7.1" textLength="25.20" lengthAdjust="spacingAndGlyphs">Поджиг</text>
<text x="518.10" y="475.60" font-size="7.1" textLength="17.90" lengthAdjust="spacingAndGlyphs">запал</text>
<text x="518.10" y="484.70" font-size="7.1" textLength="21.90" lengthAdjust="spacingAndGlyphs">Пламя</text>
<text x="559.60" y="457.40" font-size="7.1" textLength="7.30" lengthAdjust="spacingAndGlyphs">27</text>
<text x="554.20" y="466.50" font-size="7.1" textLength="24.90" lengthAdjust="spacingAndGlyphs">Поджиг</text>
<text x="554.20" y="475.60" font-size="7.1" textLength="19.20" lengthAdjust="spacingAndGlyphs">горел.</text>
<text x="560.40" y="484.70" font-size="7.1" textLength="22.00" lengthAdjust="spacingAndGlyphs">Пламя</text>
<text x="601.90" y="457.40" font-size="7.1" textLength="7.30" lengthAdjust="spacingAndGlyphs">28</text>
<text x="590.50" y="466.50" font-size="7.1" textLength="27.60" lengthAdjust="spacingAndGlyphs">Прогрев</text>
<text x="595.90" y="484.70" font-size="7.1" textLength="22.20" lengthAdjust="spacingAndGlyphs">Пламя</text>
<text x="626.80" y="457.40" font-size="7.1" textLength="22.50" lengthAdjust="spacingAndGlyphs">Работа</text>
<text x="626.80" y="466.50" font-size="7.1" textLength="21.30" lengthAdjust="spacingAndGlyphs">Пламя</text>
<text x="626.80" y="475.60" font-size="7.1" textLength="15.70" lengthAdjust="spacingAndGlyphs">Мш+</text>
<text x="666.20" y="457.40" font-size="7.1" textLength="22.50" lengthAdjust="spacingAndGlyphs">Работа</text>
<text x="666.20" y="466.50" font-size="7.1" textLength="21.30" lengthAdjust="spacingAndGlyphs">Пламя</text>
<text x="666.20" y="475.60" font-size="7.1" textLength="12.80" lengthAdjust="spacingAndGlyphs">Мш-</text>
<text x="708.30" y="457.40" font-size="7.1" textLength="8.50" lengthAdjust="spacingAndGlyphs">FA</text>
<text x="702.20" y="466.50" font-size="7.1" textLength="28.20" lengthAdjust="spacingAndGlyphs">Останов</text>
<text x="745.00" y="457.40" font-size="7.1" textLength="19.60" lengthAdjust="spacingAndGlyphs">FD,FF</text>
<text x="739.40" y="466.50" font-size="7.1" textLength="23.60" lengthAdjust="spacingAndGlyphs">Авария</text>
<text x="739.40" y="475.60" font-size="7.1" textLength="36.00" lengthAdjust="spacingAndGlyphs">Индикация</text>
<text x="739.40" y="484.70" font-size="7.1" textLength="31.10" lengthAdjust="spacingAndGlyphs">авар.сост.</text>
</g>
</svg>
</body></html>
